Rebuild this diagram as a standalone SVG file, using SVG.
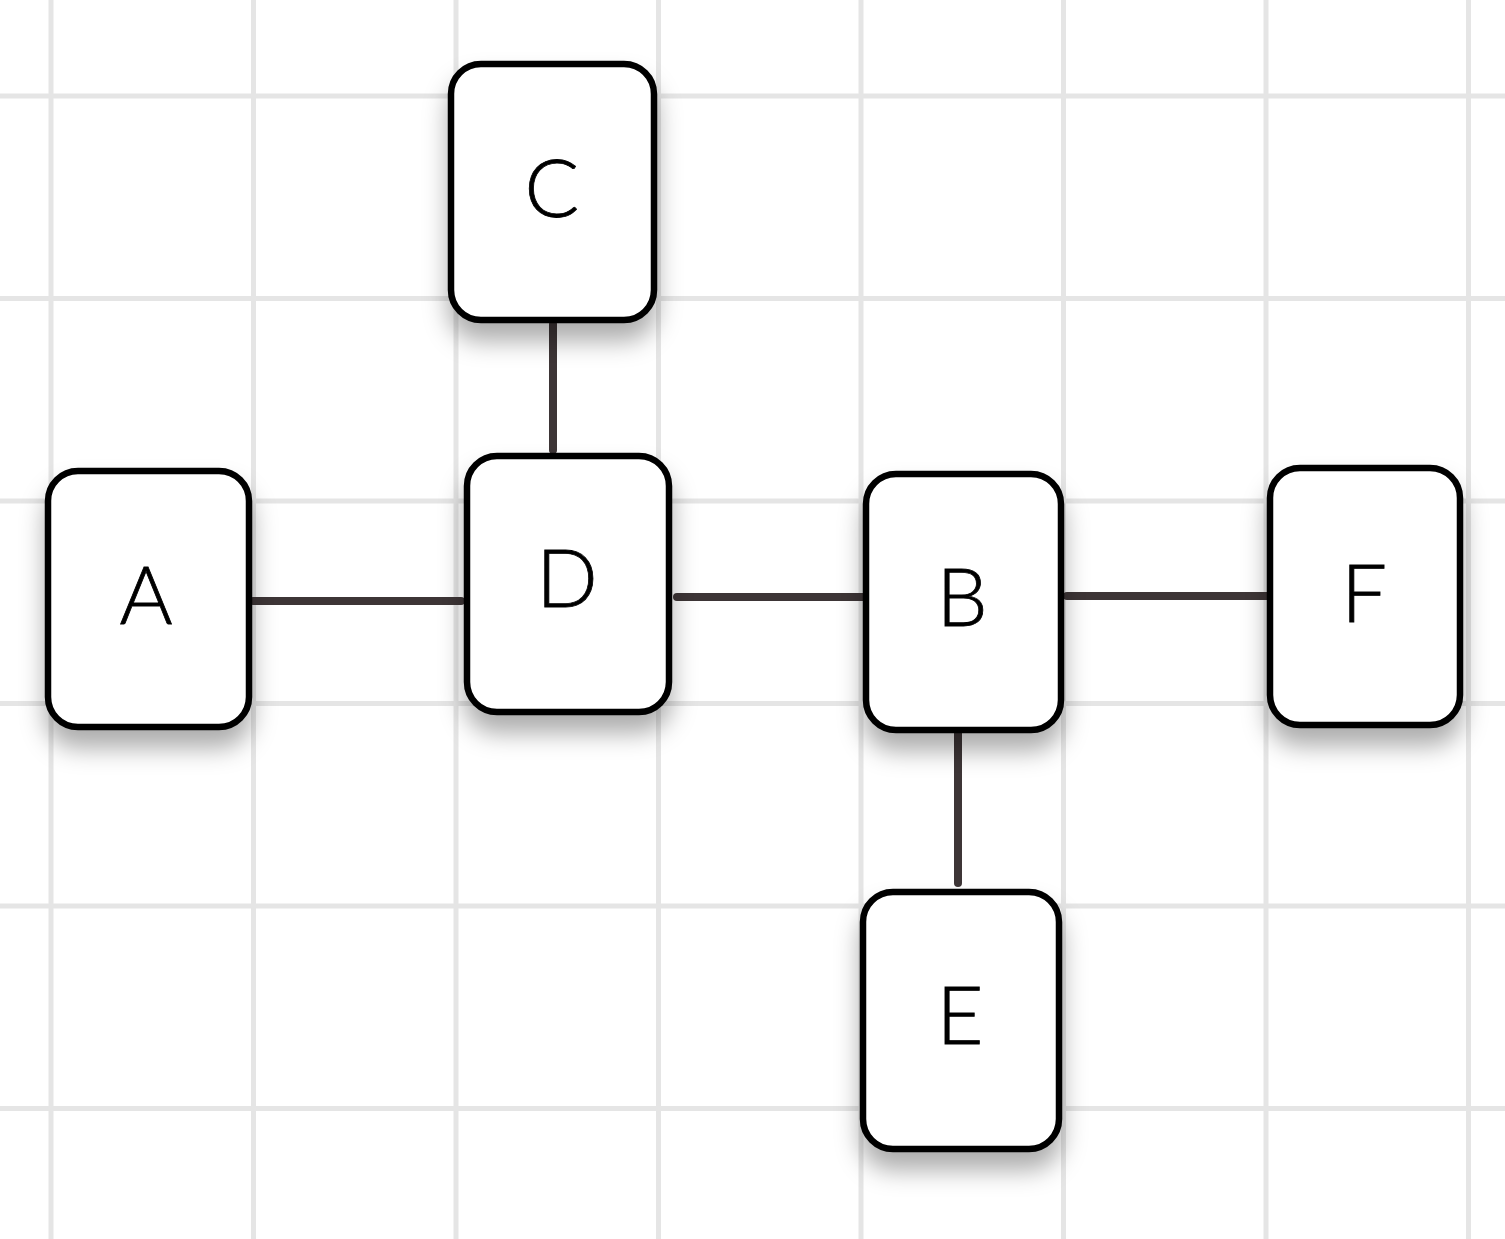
<svg xmlns="http://www.w3.org/2000/svg" width="1505" height="1239" viewBox="0 0 1505 1239">
  <style>
    .grid line { stroke: #e5e5e5; stroke-width: 5; }
    .node rect { fill: #ffffff; stroke: #000000; stroke-width: 6.5; }
    .node text { font-family: "Lato", "Liberation Sans", sans-serif; font-weight: 300; font-size: 81px; fill: #000000; stroke: #000000; stroke-width: 0.8; text-anchor: middle; }
    .edges line { stroke: #3d3536; stroke-width: 8; stroke-linecap: round; }
  </style>
  <defs>
    <filter id="shadow" x="-25%" y="-25%" width="150%" height="160%">
      <feDropShadow dx="0" dy="18" stdDeviation="12" flood-color="#000000" flood-opacity="0.32"/>
    </filter>
  </defs>

  <rect width="1505" height="1239" fill="#ffffff"/>

  <!-- background grid -->
  <g class="grid">
    <line x1="51" y1="0" x2="51" y2="1239"/>
    <line x1="253.5" y1="0" x2="253.5" y2="1239"/>
    <line x1="456" y1="0" x2="456" y2="1239"/>
    <line x1="658.5" y1="0" x2="658.5" y2="1239"/>
    <line x1="861" y1="0" x2="861" y2="1239"/>
    <line x1="1063.5" y1="0" x2="1063.5" y2="1239"/>
    <line x1="1266" y1="0" x2="1266" y2="1239"/>
    <line x1="1468.5" y1="0" x2="1468.5" y2="1239"/>
    <line x1="0" y1="96" x2="1505" y2="96"/>
    <line x1="0" y1="298.5" x2="1505" y2="298.5"/>
    <line x1="0" y1="501" x2="1505" y2="501"/>
    <line x1="0" y1="703.5" x2="1505" y2="703.5"/>
    <line x1="0" y1="906" x2="1505" y2="906"/>
    <line x1="0" y1="1108.5" x2="1505" y2="1108.5"/>
  </g>

  <!-- connectors -->
  <g class="edges">
    <line x1="253" y1="601" x2="461" y2="601"/>
    <line x1="677" y1="597" x2="866" y2="597"/>
    <line x1="553" y1="324" x2="553" y2="450"/>
    <line x1="1067" y1="596" x2="1268" y2="596"/>
    <line x1="958" y1="731" x2="958" y2="883"/>
  </g>

  <!-- nodes -->
  <g id="node-A" class="node">
    <rect x="48" y="471" width="201" height="256" rx="30" filter="url(#shadow)"/>
    <text x="146" y="624">A</text>
  </g>
  <g id="node-C" class="node">
    <rect x="451" y="64" width="203" height="256" rx="30" filter="url(#shadow)"/>
    <text x="552" y="217">C</text>
  </g>
  <g id="node-D" class="node">
    <rect x="467" y="456" width="202" height="256" rx="30" filter="url(#shadow)"/>
    <text x="567" y="607">D</text>
  </g>
  <g id="node-B" class="node">
    <rect x="866" y="474" width="195" height="256" rx="30" filter="url(#shadow)"/>
    <text x="962" y="626">B</text>
  </g>
  <g id="node-F" class="node">
    <rect x="1270" y="468" width="190" height="257" rx="30" filter="url(#shadow)"/>
    <text x="1364" y="622">F</text>
  </g>
  <g id="node-E" class="node">
    <rect x="863" y="892" width="196" height="257" rx="30" filter="url(#shadow)"/>
    <text x="960" y="1044">E</text>
  </g>
</svg>
